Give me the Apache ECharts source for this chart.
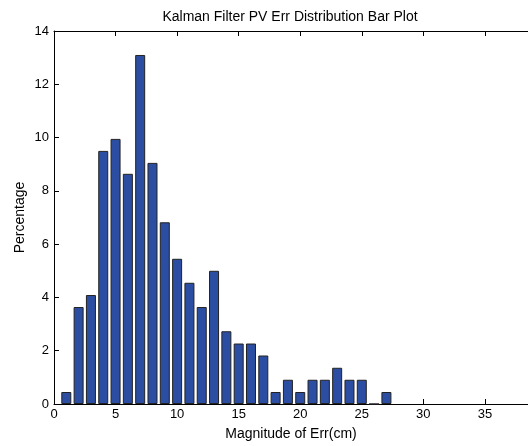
<!DOCTYPE html>
<html><head><meta charset="utf-8">
<script src="https://cdn.jsdelivr.net/npm/echarts@6/dist/echarts.min.js"></script>
<style>html,body{margin:0;padding:0;background:#fff}#c{width:528px;height:446px}</style>
</head><body><div id="c"></div>
<script>
const bins = [1,2,3,4,5,6,7,8,9,10,11,12,13,14,15,16,17,18,19,20,21,22,23,24,25,26,27];
const percentages = [0.45,3.64,4.09,9.5,9.95,8.64,13.1,9.05,6.82,5.45,4.55,3.64,5.0,2.73,2.27,2.27,1.82,0.45,0.91,0.45,0.91,0.91,1.36,0.91,0.91,0,0.45];
const titleText = 'Kalman Filter PV Err Distribution Bar Plot';
const xName = 'Magnitude of Err(cm)';
const yName = 'Percentage';

const font = 'Liberation Sans, Arial, sans-serif';
const chart = echarts.init(document.getElementById('c'), null, {renderer:'canvas'});
const axisLine = {show:true, lineStyle:{color:'#000', width:1}};
chart.setOption({
  animation:false,
  backgroundColor:'#fff',
  title:{text:titleText, left:285, top:5, textAlign:'center',
    textStyle:{fontFamily:font, fontSize:14, fontWeight:'normal', color:'#000'}},
  grid:{left:54, right:0, top:31, bottom:41, containLabel:false},
  xAxis:[{
    type:'value', min:0, max:38.5, interval:5, position:'bottom',
    axisLine:axisLine, axisTick:{show:true, inside:true, length:5, lineStyle:{color:'#000'}},
    axisLabel:{fontFamily:font, fontSize:13, color:'#000', margin:4, showMaxLabel:false},
    splitLine:{show:false},
    name:xName, nameLocation:'middle', nameGap:23, nameMoveOverlap:false,
    nameTextStyle:{fontFamily:font, fontSize:14, color:'#000'}
  },{
    type:'value', min:0, max:38.5, interval:5, position:'top',
    axisLine:axisLine, axisTick:{show:true, inside:true, length:5, lineStyle:{color:'#000'}},
    axisLabel:{show:false}, splitLine:{show:false}
  }],
  yAxis:{
    type:'value', min:0, max:14, interval:2,
    axisLine:axisLine, axisTick:{show:true, inside:true, length:5, lineStyle:{color:'#000'}},
    axisLabel:{fontFamily:font, fontSize:13, color:'#000', margin:5},
    splitLine:{show:false},
    name:yName, nameLocation:'middle', nameGap:27, nameMoveOverlap:false,
    nameTextStyle:{fontFamily:font, fontSize:14, color:'#000'}
  },
  series:[{
    type:'bar', xAxisIndex:0,
    data: bins.map((b,i)=>[b, percentages[i]]),
    barWidth:10,
    itemStyle:{color:'#2C4EA2', borderColor:'#222', borderWidth:1}
  }]
});
</script></body></html>
